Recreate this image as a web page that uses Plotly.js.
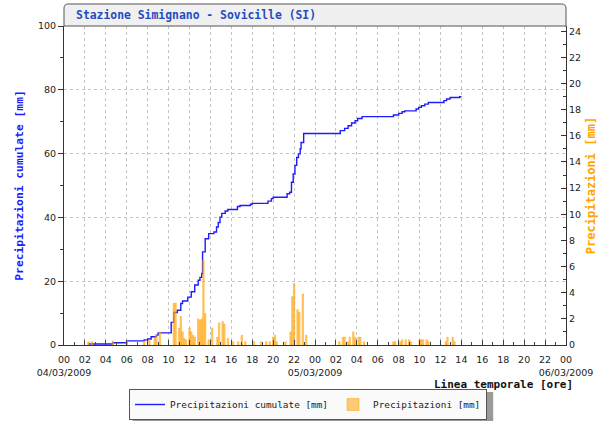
<!DOCTYPE html>
<html>
<head>
<meta charset="utf-8">
<script src="https://cdn.plot.ly/plotly-3.0.1.min.js"></script>
<style>
html,body{margin:0;padding:0;background:#fff;}
#chart{width:605px;height:421px;}
</style>
</head>
<body>
<div id="chart"></div>
<script>
// ---- Data ----
const cumTimes = [
  '2009-03-04 02:20','2009-03-04 04:40','2009-03-04 06:00','2009-03-04 07:40','2009-03-04 08:00',
  '2009-03-04 08:20','2009-03-04 08:50','2009-03-04 09:00','2009-03-04 10:15','2009-03-04 10:30',
  '2009-03-04 10:50','2009-03-04 11:10','2009-03-04 11:20','2009-03-04 11:50','2009-03-04 12:10',
  '2009-03-04 12:30','2009-03-04 12:50','2009-03-04 13:00','2009-03-04 13:10','2009-03-04 13:15',
  '2009-03-04 13:30','2009-03-04 13:50','2009-03-04 14:20','2009-03-04 14:35','2009-03-04 14:45',
  '2009-03-04 14:55','2009-03-04 15:05','2009-03-04 15:25','2009-03-04 15:40','2009-03-04 16:35',
  '2009-03-04 16:50','2009-03-04 17:50','2009-03-04 18:00','2009-03-04 19:30','2009-03-04 19:50',
  '2009-03-04 20:00','2009-03-04 21:20','2009-03-04 21:35','2009-03-04 21:45','2009-03-04 21:55',
  '2009-03-04 22:05','2009-03-04 22:15','2009-03-04 22:25','2009-03-04 22:35','2009-03-04 22:40',
  '2009-03-04 22:55','2009-03-05 02:25','2009-03-05 02:50','2009-03-05 03:10','2009-03-05 03:30',
  '2009-03-05 03:50','2009-03-05 04:05','2009-03-05 04:30','2009-03-05 07:30','2009-03-05 08:00',
  '2009-03-05 08:20','2009-03-05 08:35','2009-03-05 09:40','2009-03-05 09:55','2009-03-05 10:10',
  '2009-03-05 10:30','2009-03-05 10:50','2009-03-05 12:20','2009-03-05 12:35','2009-03-05 12:55',
  '2009-03-05 13:50','2009-03-05 14:00'
];
const cumValues = [
  0.3,0.7,1.3,1.6,1.9,
  2.6,3.1,3.8,7.1,10.2,
  10.9,13.0,13.8,15.0,16.7,
  18.8,20.3,21.2,22.4,29.2,
  33.3,34.9,35.4,37.0,38.4,
  40.1,41.25,42.0,42.5,43.4,
  43.75,44.1,44.4,45.1,45.9,
  46.3,47.4,47.9,51.0,53.6,
  56.3,58.8,59.9,61.5,63.5,
  66.3,67.2,67.9,68.75,69.6,
  70.3,71.0,71.6,72.1,72.6,
  73.1,73.4,74.0,74.5,75.0,
  75.5,76.0,76.6,77.1,77.6,
  77.8,77.8
];
const rainTimes = [
  '2009-03-04 02:20','2009-03-04 02:40','2009-03-04 04:40','2009-03-04 06:00','2009-03-04 07:40',
  '2009-03-04 08:10','2009-03-04 08:40','2009-03-04 08:50','2009-03-04 09:10',
  '2009-03-04 10:30','2009-03-04 10:40','2009-03-04 11:00','2009-03-04 11:10','2009-03-04 11:20',
  '2009-03-04 11:30','2009-03-04 11:40','2009-03-04 12:00','2009-03-04 12:10','2009-03-04 12:20',
  '2009-03-04 12:30','2009-03-04 12:50','2009-03-04 13:00','2009-03-04 13:10','2009-03-04 13:20',
  '2009-03-04 13:30','2009-03-04 13:50','2009-03-04 14:10','2009-03-04 14:40','2009-03-04 14:50',
  '2009-03-04 15:10','2009-03-04 15:20','2009-03-04 15:40','2009-03-04 16:10','2009-03-04 16:40',
  '2009-03-04 17:00','2009-03-04 17:20','2009-03-04 18:10','2009-03-04 18:50','2009-03-04 19:20',
  '2009-03-04 19:40','2009-03-04 20:00','2009-03-04 20:10','2009-03-04 20:20','2009-03-04 21:10',
  '2009-03-04 21:40','2009-03-04 21:50','2009-03-04 22:00','2009-03-04 22:20','2009-03-04 22:30',
  '2009-03-04 22:50','2009-03-04 23:10',
  '2009-03-05 02:20','2009-03-05 02:40','2009-03-05 02:50','2009-03-05 03:10','2009-03-05 03:20',
  '2009-03-05 03:40','2009-03-05 03:50','2009-03-05 04:10','2009-03-05 04:20','2009-03-05 04:40',
  '2009-03-05 07:30','2009-03-05 07:40','2009-03-05 08:10','2009-03-05 08:20','2009-03-05 08:40',
  '2009-03-05 09:00','2009-03-05 09:10','2009-03-05 10:00','2009-03-05 10:10','2009-03-05 10:20',
  '2009-03-05 10:40','2009-03-05 10:50','2009-03-05 12:30','2009-03-05 12:40','2009-03-05 13:10',
  '2009-03-05 13:20'
];
const rainValues = [
  0.25,0.25,0.3,0.4,0.3,
  0.4,0.5,0.75,1.0,
  3.2,3.2,1.3,2.2,1.0,
  0.5,0.4,1.3,1.0,0.75,
  0.6,2.0,1.9,2.0,6.5,
  2.4,0.4,1.3,0.6,1.7,
  1.8,1.6,0.5,0.25,0.25,
  0.75,0.25,0.25,0.25,0.25,
  0.25,0.6,0.75,0.25,0.25,
  1.0,3.7,4.7,2.7,2.5,
  3.9,0.75,
  0.25,0.6,0.6,0.25,0.6,
  1.0,0.6,0.6,0.6,0.25,
  0.25,0.25,0.25,0.4,0.4,
  0.4,0.25,0.4,0.4,0.4,
  0.4,0.25,0.25,0.6,0.6,
  0.25
];
const tickLabels = ['00','02','04','06','08','10','12','14','16','18','20','22',
                    '00','02','04','06','08','10','12','14','16','18','20','22','00'];
const dayLabels = ['04/03/2009','05/03/2009','06/03/2009'];
const chartTitle = 'Stazione Simignano - Sovicille (SI)';
const nameCum = 'Precipitazioni cumulate [mm]';
const nameRain = 'Precipitazioni [mm]';
const xTitle = 'Linea temporale [ore]';

// ---- Tick positions built from the axis start ----
const start = Date.UTC(2009, 2, 4, 0, 0);
function fmt(ms){
  const d = new Date(ms);
  const p = n => String(n).padStart(2,'0');
  return d.getUTCFullYear()+'-'+p(d.getUTCMonth()+1)+'-'+p(d.getUTCDate())+' '+p(d.getUTCHours())+':'+p(d.getUTCMinutes());
}
const tickVals = tickLabels.map((_, i) => fmt(start + i*2*3600000));
const tickText = tickLabels.map((t, i) => (i % 12 === 0) ? t + '<br>' + dayLabels[i/12] : t);

const mono = 'DejaVu Sans Mono, monospace';
const sans = 'DejaVu Sans, Verdana, sans-serif';

const traces = [
  {
    type: 'scatter', mode: 'lines', name: nameCum,
    x: cumTimes, y: cumValues, yaxis: 'y',
    line: {shape: 'hv', color: '#1c1cff', width: 1.4}
  },
  {
    type: 'bar', name: nameRain,
    x: rainTimes, y: rainValues, yaxis: 'y2',
    width: 500000,
    marker: {color: 'rgba(255,172,30,0.6)', line: {color: 'rgba(255,160,0,0.95)', width: 0.5}}
  }
];

// header box (rounded top corners) in paper coordinates
const hTop = 1.069, rx = 0.009, ry = 0.0135;
const headerPath = `M 0,1 L 0,${hTop-ry} Q 0,${hTop} ${rx},${hTop} L ${1-rx},${hTop} Q 1,${hTop} 1,${hTop-ry} L 1,1 Z`;

const layout = {
  width: 605, height: 421,
  margin: {l: 64, r: 39, t: 26, b: 76},
  paper_bgcolor: '#ffffff', plot_bgcolor: '#ffffff',
  showlegend: true,
  title: {
    text: chartTitle,
    font: {family: mono, size: 11.4, color: '#1f4cbf', weight: 'bold'},
    xref: 'paper', x: 0.024, xanchor: 'left',
    yref: 'container', y: 0.964, yanchor: 'middle'
  },
  xaxis: {
    type: 'date',
    range: [fmt(start), fmt(start + 48*3600000)],
    tickmode: 'array', tickvals: tickVals, ticktext: tickText,
    tickangle: 0,
    tickfont: {family: sans, size: 9.5, color: '#222'},
    ticks: 'inside', ticklen: 5, tickcolor: '#444', tickwidth: 1,
    minor: {dtick: 3600000, ticks: 'inside', ticklen: 3, tickcolor: '#444', showgrid: false},
    showgrid: true, gridcolor: '#c4c4c4', griddash: 'dot', gridwidth: 1,
    showline: true, linecolor: '#333', linewidth: 1,
    zeroline: false, fixedrange: true, automargin: false,
    ticklabelstandoff: 6
  },
  yaxis: {
    range: [0, 100], dtick: 20,
    tickfont: {family: sans, size: 9.5, color: '#222'},
    ticks: 'outside', ticklen: 5, tickcolor: '#333',
    minor: {dtick: 10, ticks: 'outside', ticklen: 3, tickcolor: '#333', showgrid: false},
    showgrid: true, gridcolor: '#c4c4c4', griddash: 'dot',
    showline: true, linecolor: '#333', linewidth: 1, zeroline: false, automargin: false,
    title: {text: nameCum, font: {family: mono, size: 11.3, color: '#1c1cff', weight: 'bold'}, standoff: 12}
  },
  yaxis2: {
    overlaying: 'y', side: 'right',
    range: [0, 24.4], dtick: 2,
    tickfont: {family: sans, size: 9.5, color: '#222'},
    ticks: 'inside', ticklen: 5, tickcolor: '#333',
    minor: {dtick: 1, ticks: 'inside', ticklen: 3, tickcolor: '#333', showgrid: false},
    showgrid: false, showline: true, linecolor: '#333', linewidth: 1, zeroline: false, automargin: false,
    title: {text: nameRain, font: {family: mono, size: 12, color: '#ffa500', weight: 'bold'}, standoff: 6}
  },
  bargap: 0,
  legend: {
    orientation: 'h', x: 0.486, xanchor: 'center',
    yref: 'container', y: 0.076, yanchor: 'top',
    bgcolor: '#fafafa', bordercolor: '#555', borderwidth: 1,
    font: {family: mono, size: 9.4, color: '#222'},
    itemwidth: 30, tracegroupgap: 0
  },
  shapes: [
    {type: 'path', xref: 'paper', yref: 'paper', path: headerPath,
     fillcolor: '#f0f0f0', line: {color: '#555', width: 1}, layer: 'above'},
    {type: 'rect', xref: 'paper', yref: 'paper', x0: 0.137, x1: 0.855, y0: -0.241, y1: -0.147,
     fillcolor: '#9a9a9a', line: {width: 0}, layer: 'below'}
  ],
  annotations: [
    {text: xTitle, xref: 'paper', yref: 'paper', x: 1.018, y: -0.124,
     xanchor: 'right', yanchor: 'middle', showarrow: false,
     font: {family: mono, size: 11, color: '#111', weight: 'bold'}}
  ]
};

Plotly.newPlot('chart', traces, layout, {displayModeBar: false, staticPlot: true});
</script>
</body>
</html>
